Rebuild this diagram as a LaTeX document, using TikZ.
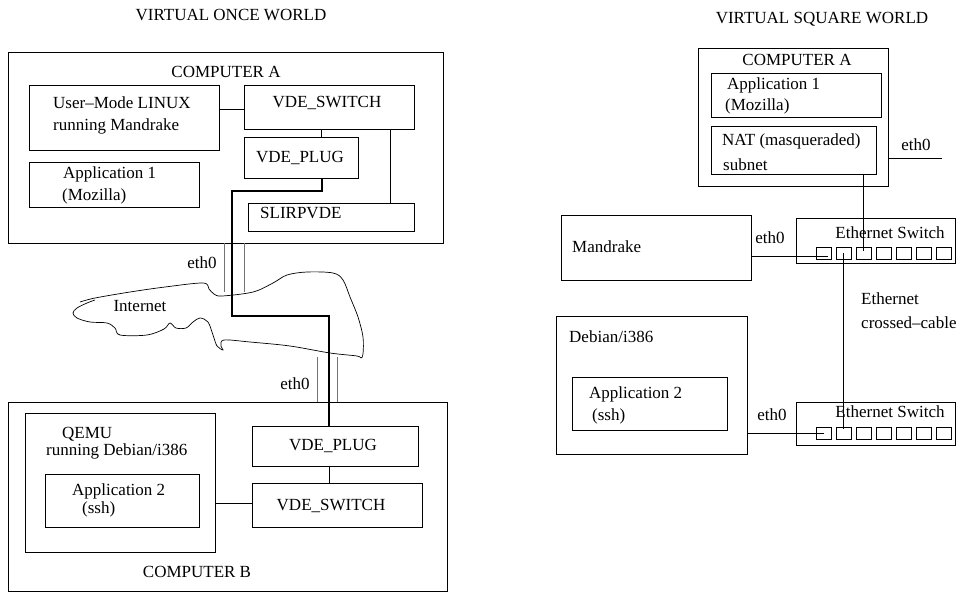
\documentclass[tikz,border=0pt]{standalone}
\usepackage{fontspec}
\setmainfont{Liberation Serif}
\usetikzlibrary{fit}
\begin{document}
\begin{tikzpicture}[x=1pt,y=-1pt,
  box/.style={draw, inner sep=0pt, line width=0.8pt},
  txt/.style={inner sep=0pt, text height=11pt, text depth=0pt, font=\fontsize{17}{20}\selectfont},
  wire/.style={line width=0.8pt},
  gwire/.style={line width=0.9pt, black!55},
  route/.style={line width=2.8pt, line join=miter}]
\useasboundingbox (0,0) rectangle (957,592);

% ---------------- titles
\node[txt] (t1) at (231,15) {VIRTUAL ONCE WORLD};
\node[txt] (t2) at (822,18) {VIRTUAL SQUARE WORLD};

% ---------------- left: computer A
\node[box, fit={(8,52) (443,243)}] (compA) {};
\node[box, fit={(29,85) (219,150)}] (uml) {};
\node[box, fit={(244,85) (414,129)}] (vswA) {};
\node[box, fit={(244,137) (358,178)}] (plugA) {};
\node[box, fit={(29,162) (199,207)}] (app1A) {};
\node[box, fit={(248,203) (414,231)}] (slirp) {};

\node[txt] (lcompA) at (226,72) {COMPUTER A};
\node[txt, anchor=west] (luml1) at (53,103) {User–Mode LINUX};
\node[txt, anchor=west] (luml2) at (53,125) {running Mandrake};
\node[txt] (lvswA) at (327,102) {VDE\_SWITCH};
\node[txt] (lplugA) at (300,157) {VDE\_PLUG};
\node[txt, anchor=west] (lapp1a) at (63,173) {Application 1};
\node[txt, anchor=west] (lapp1b) at (62,195) {(Mozilla)};
\node[txt, anchor=west] (lslirp) at (260,213) {SLIRPVDE};

\coordinate (cA1) at ([yshift=-2pt]vswA.west);
\coordinate (cA2) at ([xshift=20pt]plugA.north);
\coordinate (cA3) at ([xshift=59pt]slirp.north);
\draw[wire] (cA1) -- (uml.east |- cA1);
\draw[wire] (cA2) -- (cA2 |- vswA.south);
\draw[wire] (cA3) -- (cA3 |- vswA.south);

% ---------------- left: computer B
\node[box, fit={(8,402) (447,591)}] (compB) {};
\node[box, fit={(25,413) (215,552)}] (qemu) {};
\node[box, fit={(45,474) (199,527)}] (app2B) {};
\node[box, fit={(252,426) (418,466)}] (plugB) {};
\node[box, fit={(252,483) (422,527)}] (vswB) {};

\node[txt, anchor=west] (lqemu1) at (62,433) {QEMU};
\node[txt, anchor=west] (lqemu2) at (46,450) {running Debian/i386};
\node[txt, anchor=west] (lapp2a) at (72,490) {Application 2};
\node[txt, anchor=west] (lapp2b) at (82,508) {(ssh)};
\node[txt] (lplugB) at (333,445) {VDE\_PLUG};
\node[txt] (lvswB) at (331,505) {VDE\_SWITCH};
\node[txt] (lcompB) at (197,572) {COMPUTER B};

\coordinate (cB1) at ([xshift=-6pt]plugB.south);
\coordinate (cB2) at ([yshift=2pt]vswB.west);
\coordinate (cB3) at ([xshift=-6pt]plugB.north);
\draw[wire] (cB1) -- (cB1 |- vswB.north);
\draw[wire] (cB2) -- (qemu.east |- cB2);

% ---------------- internet
\draw[line width=0.7pt] plot[smooth, tension=0.55] coordinates {
 (80,302) (95,298) (130,292) (165,287) (203,283) (209,289) (214,294) (222,296)
 (253,292) (273,283) (287,275) (307,272) (333,273) (343,280) (350,297)
 (358,317) (363,337) (363,354) (361,358) (357,356) (330,353) (290,346)
 (250,342) (224,340) (221,346) (223,350) (217,346) (213,335) (208,322)
 (200,318) (193,322) (186,328) (176,328) (170,323) (164,329) (147,335)
 (120,335) (115,328) (107,323) (90,322) (77,318) (73,313) (77,308) (87,303) (95,300)};
\node[txt] (linet) at (140,306) {Internet};

\coordinate (e1a) at (224,292);
\coordinate (e1b) at (244,292);
\coordinate (e2a) at (317,357);
\coordinate (e2b) at (337,357);
\draw[gwire] (e1a |- compA.south) -- (e1a);
\draw[gwire] (e1b |- compA.south) -- (e1b);
\draw[gwire] (e2a) -- (e2a |- compB.north);
\draw[gwire] (e2b) -- (e2b |- compB.north);
\node[txt] (leth1) at (202,263) {eth0};
\node[txt] (leth2) at (295,384) {eth0};

\coordinate (r0) at ([xshift=21pt]plugA.south);
\coordinate (r1) at (232,191);
\coordinate (r2) at (329,316);
\draw[route] (r0) |- (r1) |- (r2) -| (cB3);

% ---------------- right: computer A
\node[box, fit={(698,48) (888,186)}] (compAR) {};
\node[box, fit={(711,73) (881,117)}] (app1R) {};
\node[box, fit={(711,126) (876,174)}] (nat) {};
\node[txt] (lcompAR) at (797,60) {COMPUTER A};
\node[txt, anchor=west] (lapp1Ra) at (727,84) {Application 1};
\node[txt, anchor=west] (lapp1Rb) at (725,105) {(Mozilla)};
\node[txt, anchor=west] (lnat1) at (722,140) {NAT (masqueraded)};
\node[txt, anchor=west] (lnat2) at (723,165) {subnet};
\coordinate (eR) at (942,158);
\draw[wire] (eR -| compAR.east) -- (eR);
\node[txt] (lethR) at (916,145) {eth0};

% ---------------- right: mandrake, debian
\node[box, fit={(561,215) (751,280)}] (mand) {};
\node[txt, anchor=west] (lmand) at (572,247) {Mandrake};
\node[box, fit={(556,316) (747,454)}] (deb) {};
\node[box, fit={(572,377) (727,430)}] (app2R) {};
\node[txt, anchor=west] (ldeb) at (569,337) {Debian/i386};
\node[txt, anchor=west] (lapp2Ra) at (589,393) {Application 2};
\node[txt, anchor=west] (lapp2Rb) at (592,415) {(ssh)};

% ---------------- switches
\node[box, fit={(796,218) (955,263)}] (sw1) {};
\node[box, fit={(796,402) (955,445)}] (sw2) {};
\node[txt] (lsw1) at (890,233) {Ethernet Switch};
\node[txt] (lsw2) at (890,412) {Ethernet Switch};
\foreach \i in {0,...,6} {
  \node[box, line width=0.7pt, fit={(816+20*\i,247) (831+20*\i,259)}] (pa\i) {};
  \node[box, line width=0.7pt, fit={(816+20*\i,427) (831+20*\i,439)}] (pb\i) {};
}
\node[txt, anchor=west] (lcross1) at (861,299) {Ethernet};
\node[txt, anchor=west] (lcross2) at (861,323) {crossed–cable};
\node[txt] (lethM) at (770,238) {eth0};
\node[txt] (lethD) at (772,415) {eth0};

\coordinate (m0) at ([xshift=4pt,yshift=-3pt]pa0.center);
\coordinate (n0) at ([yshift=2pt]pa2.center);
\coordinate (x0) at ([yshift=-2pt]pb1.north);
\draw[wire] (mand.east |- m0) -- (m0);
\draw[wire] (n0 |- nat.south) -- (n0);
\draw[wire] (pa1.center) -- (x0);
\draw[wire] (deb.east |- pb0.center) -- (pb0.center);
\end{tikzpicture}
\end{document}
